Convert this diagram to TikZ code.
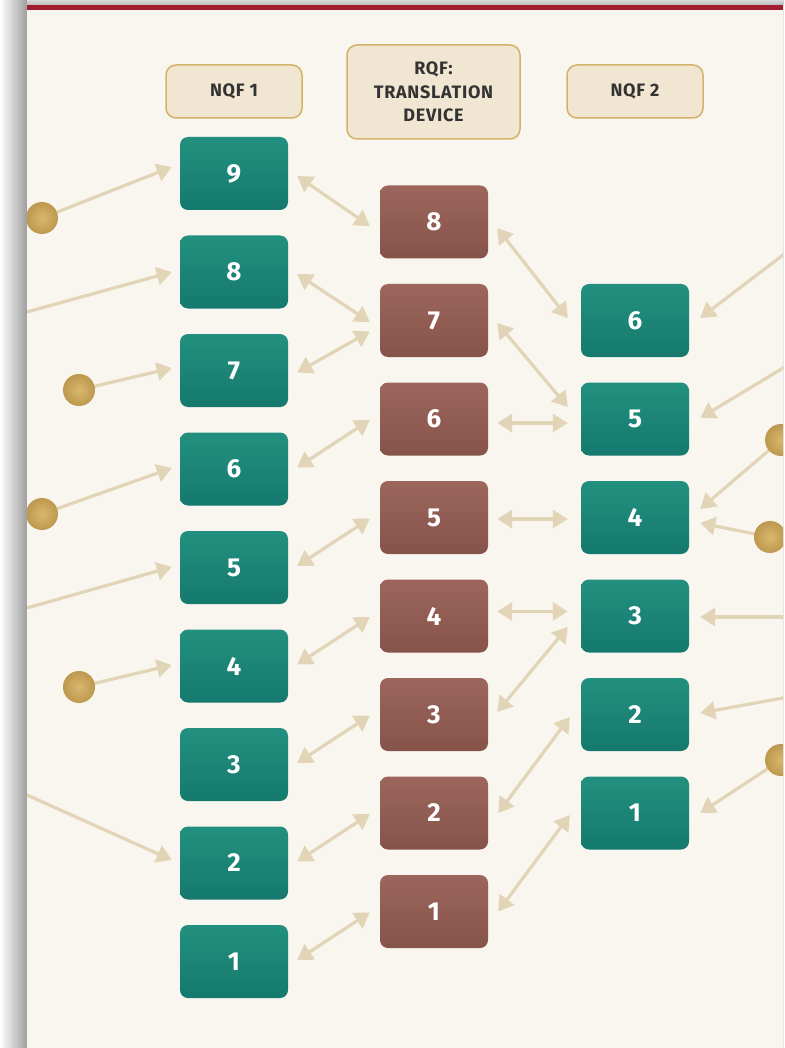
\documentclass[tikz,border=0pt]{standalone}
\usepackage{fontspec}
\setmainfont{Fira Sans}[BoldFont={Fira Sans Bold}]
\usetikzlibrary{arrows.meta,calc}
\definecolor{bgc}{HTML}{F9F5EF}
\definecolor{tealc}{HTML}{1A8A7E}
\definecolor{tealtop}{HTML}{23907F}
\definecolor{tealbot}{HTML}{15796E}
\definecolor{brownc}{HTML}{955F55}
\definecolor{browntop}{HTML}{9C665C}
\definecolor{brownbot}{HTML}{86534A}
\definecolor{arrowc}{HTML}{E2D5B7}
\definecolor{hdrfill}{HTML}{F1E6D2}
\definecolor{hdrdraw}{HTML}{D4B26A}
\definecolor{hdrtext}{HTML}{333333}
\definecolor{redc}{HTML}{A01C2E}
\definecolor{goldin}{HTML}{D9B86E}
\definecolor{goldout}{HTML}{BD984F}
\begin{document}
\begin{tikzpicture}[x=1pt,y=-1pt,
  tip/.tip={Triangle[length=15pt,width=18pt]},
  conn/.style={draw=arrowc, line width=3.2pt, {tip}-{tip}},
  inc/.style={draw=arrowc, line width=3.2pt, -{tip}},
  tealbox/.style={rounded corners=8pt, minimum width=108pt, minimum height=73pt, inner sep=0pt,
    top color=tealtop, middle color=tealc, bottom color=tealbot, text=white,
    font=\fontsize{26}{26}\selectfont\bfseries},
  brownbox/.style={rounded corners=8pt, minimum width=108pt, minimum height=73pt, inner sep=0pt,
    top color=browntop, middle color=brownc, bottom color=brownbot, text=white,
    font=\fontsize{26}{26}\selectfont\bfseries},
  hdr/.style={rounded corners=10pt, fill=hdrfill, draw=hdrdraw, line width=1.5pt, text=hdrtext,
    inner sep=0pt, align=center, font=\fontsize{18}{23.5}\selectfont\bfseries\addfontfeatures{LetterSpace=4}},
  dot/.style={circle, minimum size=32pt, inner sep=0pt, inner color=goldin, outer color=goldout}]
\useasboundingbox (0,0) rectangle (784,1048);
% page and shadows
\shade[left color=white, right color=black!38] (0,0) rectangle (27,1048);
\shade[top color=black!15, bottom color=black!28] (27,0) rectangle (784,5);
\fill[bgc] (27,5) rectangle (783,1048);
\fill[black!10] (783,5) rectangle (784,1048);
\fill[redc] (27,5) rectangle (783,10);
% headers
\node[hdr, minimum width=136pt, minimum height=53pt] (h1) at (234,91.5) {NQF 1};
\node[hdr, minimum width=173pt, minimum height=94pt] (h2) at (433.5,92) {RQF:\\TRANSLATION\\DEVICE};
\node[hdr, minimum width=136pt, minimum height=53pt] (h3) at (635,91.5) {NQF 2};
% boxes
\foreach \i/\y in {9/173.5,8/272,7/370.5,6/469,5/567.5,4/666,3/764.5,2/863,1/961.5}
  \node[tealbox] (a\i) at (234,\y) {\i};
\foreach \i/\y in {8/222,7/320.5,6/419,5/517.5,4/616,3/714.5,2/813,1/911.5}
  \node[brownbox] (b\i) at (434,\y) {\i};
\foreach \i/\y in {6/320.5,5/419,4/517.5,3/616,2/714.5,1/813}
  \node[tealbox] (c\i) at (635,\y) {\i};
% NQF1 <-> RQF
\draw[conn] ($(a9.east)+(9,2.5)$) -- ($(b8.west)+(-10,4)$);
\draw[conn] ($(a8.east)+(9,2)$) -- ($(b7.west)+(-10,1.5)$);
\draw[conn] ($(a7.east)+(9,2)$) -- ($(b7.west)+(-10,11)$);
\foreach \i in {6,5,4,3,2,1}
  \draw[conn] ($(a\i.east)+(9,-1.5)$) -- ($(b\i.west)+(-10,1)$);
% RQF <-> NQF2
\draw[conn] ($(b8.east)+(9,6)$) -- ($(c6.west)+(-13,-2.5)$);
\draw[conn] ($(b7.east)+(9,2.5)$) -- ($(c5.west)+(-13,-12)$);
\draw[conn] ($(b6.east)+(9,4)$) -- ($(c5.west)+(-13,4)$);
\draw[conn] ($(b5.east)+(9,1.5)$) -- ($(c4.west)+(-13,1.5)$);
\draw[conn] ($(b4.east)+(9,-4.5)$) -- ($(c3.west)+(-13,-4.5)$);
\draw[conn] ($(b3.east)+(9,-2.5)$) -- ($(c3.west)+(-13,11)$);
\draw[conn] ($(b2.east)+(10,0)$) -- ($(c2.west)+(-11,2.5)$);
\draw[conn] ($(b1.east)+(10,0)$) -- ($(c1.west)+(-11,2)$);
% incoming from outside
\begin{scope}
\clip (27,10) rectangle (783,1048);
\coordinate (f8) at (0,319.4);
\coordinate (f5) at (0,615.6);
\coordinate (f2) at (0,782.9);
\coordinate (g6) at (800,242.1);
\coordinate (g5) at (800,357.8);
\coordinate (g3) at (800,617);
\coordinate (g2) at (800,694.9);
\coordinate (pc1) at (42,218);
\coordinate (pc2) at (79,390);
\coordinate (pc3) at (42,514);
\coordinate (pc4) at (79,687);
\coordinate (qc1) at (781,440);
\coordinate (qc2) at (770,537);
\coordinate (qc3) at (781,760);
\draw[inc] (pc1) -- ($(a9.west)+(-8,-6.5)$);
\draw[inc] (f8) -- ($(a8.west)+(-8,0)$);
\draw[inc] (pc2) -- ($(a7.west)+(-8,-2.5)$);
\draw[inc] (pc3) -- ($(a6.west)+(-8,-1)$);
\draw[inc] (f5) -- ($(a5.west)+(-8,-0.5)$);
\draw[inc] (pc4) -- ($(a4.west)+(-8,-1)$);
\draw[inc] (f2) -- ($(a2.west)+(-8,-3)$);
\draw[inc] (g6) -- ($(c6.east)+(11,-2.5)$);
\draw[inc] (g5) -- ($(c5.east)+(11,-1)$);
\draw[inc] (qc1) -- ($(c4.east)+(11,-8.5)$);
\draw[inc] (qc2) -- ($(c4.east)+(11,5.5)$);
\draw[inc] (g3) -- ($(c3.east)+(11,1)$);
\draw[inc] (g2) -- ($(c2.east)+(11,-1.5)$);
\draw[inc] (qc3) -- ($(c1.east)+(11,0)$);
\foreach \n in {pc1,pc2,pc3,pc4,qc1,qc2,qc3}
  \node[dot] (d\n) at (\n) {};
\end{scope}
\end{tikzpicture}
\end{document}
